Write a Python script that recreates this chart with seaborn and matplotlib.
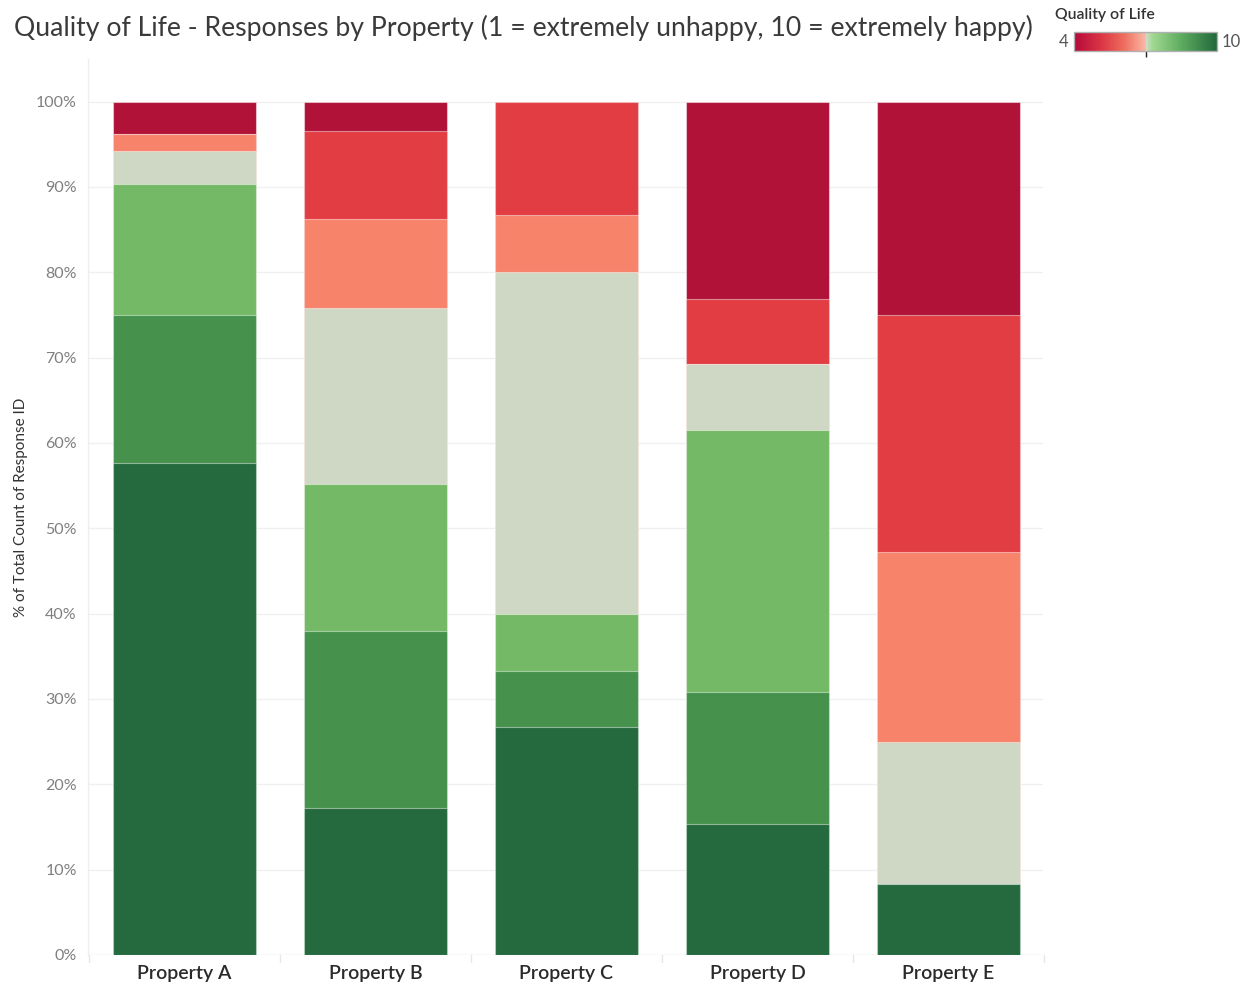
import numpy as np
import pandas as pd
import matplotlib
matplotlib.use("Agg")
import matplotlib.pyplot as plt
from matplotlib.colors import LinearSegmentedColormap, Normalize
from matplotlib.cm import ScalarMappable
import seaborn as sns

# Response counts per property for each Quality of Life score
properties = ["Property A", "Property B", "Property C", "Property D", "Property E"]
scores = [4, 5, 6, 7, 8, 9, 10]
counts_4 = [2, 1, 0, 3, 9]
counts_5 = [0, 3, 2, 1, 10]
counts_6 = [1, 3, 1, 0, 8]
counts_7 = [2, 6, 6, 1, 6]
counts_8 = [8, 5, 1, 4, 0]
counts_9 = [9, 6, 1, 2, 0]
counts_10 = [30, 5, 4, 2, 3]

score_colors = {
    4: "#B01238",
    5: "#E23D42",
    6: "#F8836B",
    7: "#CFD8C4",
    8: "#74BA66",
    9: "#46924D",
    10: "#256A3E",
}

counts = pd.DataFrame(
    [counts_4, counts_5, counts_6, counts_7, counts_8, counts_9, counts_10],
    index=scores, columns=properties,
)
share = counts / counts.sum(axis=0)
# Cumulative share from the happiest score upward: score s spans [cum(s+1), cum(s)]
cum = share.iloc[::-1].cumsum().iloc[::-1]
long = cum.reset_index().melt(id_vars="index", var_name="property", value_name="cum")
long = long.rename(columns={"index": "score"})

sns.set_theme(style="white")
plt.rcParams["font.family"] = ["Lato", "DejaVu Sans"]

fig = plt.figure(figsize=(12.5, 9.83), dpi=100)
ax = fig.add_axes([0.0704, 0.0285, 0.764, 0.9115])

sns.barplot(
    data=long, x="property", y="cum", hue="score", hue_order=scores,
    order=properties, palette=score_colors, saturation=1, dodge=False, width=0.75,
    edgecolor=(1, 1, 1, 0.45), linewidth=0.8, legend=False, ax=ax,
    errorbar=None, zorder=3,
)

ax.set_ylim(0, 1.05)
ax.set_xlim(-0.505, 4.495)
yt = np.arange(0, 1.01, 0.1)
ax.set_yticks(yt)
ax.set_yticklabels([f"{int(round(v * 100))}%" for v in yt], color="#7f7f7f", fontsize=11.5)
ax.yaxis.grid(True, color="#f0f0f0", linewidth=1.0, zorder=0)
ax.xaxis.grid(False)
ax.tick_params(axis="y", length=0, pad=8)
ax.tick_params(axis="x", length=0, pad=7)
for lbl in ax.get_xticklabels():
    lbl.set_fontsize(14)
    lbl.set_fontweight("semibold")
    lbl.set_color("#2a2a2a")
ax.set_xlabel("")
ax.set_ylabel("% of Total Count of Response ID", fontsize=11, color="#333333", labelpad=6)

for side in ["top", "right", "bottom"]:
    ax.spines[side].set_visible(False)
ax.spines["left"].set_color("#eeeeee")
ax.spines["left"].set_linewidth(1.0)

# Category separators below the baseline
for xs in np.arange(-0.5, 4.6, 1.0):
    ax.plot([xs, xs], [0, -0.008], color="#e6e6e6", lw=1.0, clip_on=False, zorder=1)
ax.axhline(0, color="#eaeaea", lw=1.0, zorder=1)

fig.text(0.011, 0.972, "Quality of Life - Responses by Property (1 = extremely unhappy, 10 = extremely happy)",
         fontsize=19.2, color="#3a3a3a", ha="left", va="center")

# Diverging colour legend centred on 7
cmap = LinearSegmentedColormap.from_list(
    "qol",
    [(0.0, "#B5083A"), (0.2, "#DD3845"), (0.35, "#EE6E5E"), (0.5, "#FAB7A7"),
     (0.5, "#D3DDCB"), (0.55, "#A0D790"), (0.75, "#5EAC60"), (1.0, "#21683B")],
)
cax = fig.add_axes([1074 / 1250, 1 - 51 / 983, 143 / 1250, 19 / 983])
sm = ScalarMappable(norm=Normalize(4, 10), cmap=cmap)
cb = fig.colorbar(sm, cax=cax, orientation="horizontal")
cb.outline.set_edgecolor("#b0b0b0")
cb.outline.set_linewidth(1.0)
cb.set_ticks([7])
cax.tick_params(axis="x", length=4, width=1, color="#222222", labelbottom=False, direction="out", pad=0)
fig.text(1055 / 1250, 1 - 15 / 983, "Quality of Life", fontsize=11.3, fontweight="semibold",
         color="#333333", ha="left", va="center")
fig.text(1068 / 1250, 1 - 42 / 983, "4", fontsize=12, color="#555555", ha="right", va="center")
fig.text(1222 / 1250, 1 - 42 / 983, "10", fontsize=12, color="#555555", ha="left", va="center")

fig.savefig("out.png", dpi=100, facecolor="white")
